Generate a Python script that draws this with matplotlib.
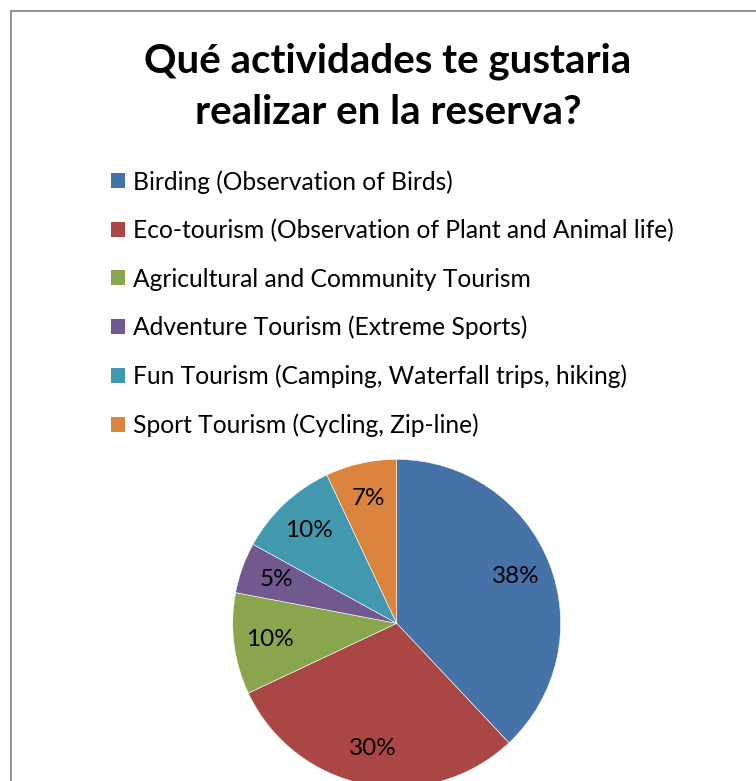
import matplotlib.pyplot as plt
from matplotlib.patches import Patch, Rectangle

# Datos
categorias = [
    "Birding (Observation of Birds)",
    "Eco-tourism (Observation of Plant and Animal life)",
    "Agricultural and Community Tourism",
    "Adventure Tourism (Extreme Sports)",
    "Fun Tourism (Camping, Waterfall trips, hiking)",
    "Sport Tourism (Cycling, Zip-line)",
]
porcentajes = [38, 30, 10, 5, 10, 7]
colores = ["#4572A7", "#AA4643", "#89A54E", "#71588F", "#4198AF", "#DB843D"]

plt.rcParams['font.family'] = ['Lato', 'DejaVu Sans']

fig = plt.figure(figsize=(7.56, 7.81), dpi=100)

# borde del grafico
fig.patches.append(Rectangle((11 / 756, -0.1), 1.2, 1.1 - 11 / 781,
                             transform=fig.transFigure, fill=False,
                             edgecolor="#8a8a8a", linewidth=1.3))

# Titulo
fig.text(388 / 756, 1 - 87 / 781, "Qué actividades te gustaria\nrealizar en la reserva?",
         ha='center', va='center', fontsize=29, fontweight='bold',
         linespacing=1.45)

# Pastel
ax = fig.add_axes([0.2861, -0.0291, 0.4772, 0.462])
wedges, textos, pcts = ax.pie(porcentajes, colors=colores, startangle=90,
                              counterclock=False, autopct='%d%%',
                              pctdistance=0.78,
                              wedgeprops=dict(edgecolor='white', linewidth=0.4),
                              textprops=dict(fontsize=17.5, color='black'))
ax.set_xlim(-1.1, 1.1)
ax.set_ylim(-1.1, 1.1)
ax.set_aspect('equal')

# Leyenda
handles = [Patch(facecolor=c, edgecolor='none') for c in colores]
fig.legend(handles, categorias, loc='upper left',
           bbox_to_anchor=(111 / 756, 1 - 170 / 781),
           frameon=False, fontsize=17.7, handlelength=0.55, handleheight=0.55,
           handletextpad=0.33, labelspacing=1.03, borderpad=0, borderaxespad=0)

fig.savefig("out.png", dpi=100)
